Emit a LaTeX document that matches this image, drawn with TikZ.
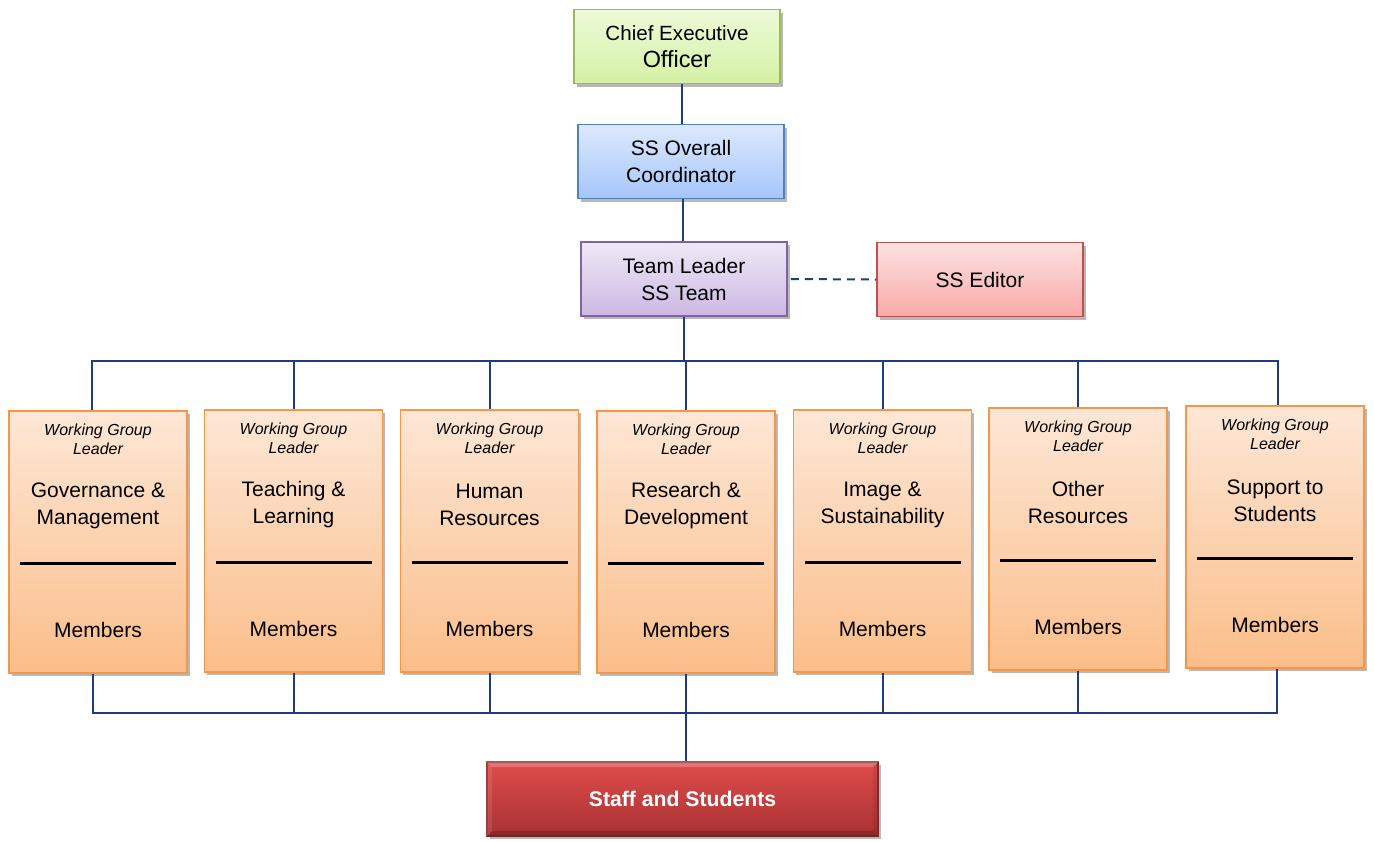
\documentclass[tikz,border=0pt]{standalone}
\usepackage{fontspec}
\setmainfont{Liberation Sans}
\usetikzlibrary{shadows}

\definecolor{linecol}{HTML}{1F3C7C}
\definecolor{greenTop}{HTML}{EEFAD9}
\definecolor{greenBot}{HTML}{D3F1A4}
\definecolor{greenEdge}{HTML}{9BBB59}
\definecolor{blueTop}{HTML}{DDE9FC}
\definecolor{blueBot}{HTML}{A5C6FB}
\definecolor{blueEdge}{HTML}{4F81BD}
\definecolor{purpTop}{HTML}{EFE8F5}
\definecolor{purpBot}{HTML}{CCB8E3}
\definecolor{purpEdge}{HTML}{8064A2}
\definecolor{redTop}{HTML}{FDE2E2}
\definecolor{redBot}{HTML}{F9A9A9}
\definecolor{redEdge}{HTML}{C0504D}
\definecolor{orTop}{HTML}{FDE7D6}
\definecolor{orBot}{HTML}{FBBE8A}
\definecolor{orEdge}{HTML}{F79646}
\definecolor{ssTop}{HTML}{E04C4C}
\definecolor{ssBot}{HTML}{A83232}
\definecolor{ssEdge}{HTML}{8E2C2C}

\begin{document}
\begin{tikzpicture}[x=0.5pt,y=-0.5pt,
  conn/.style={draw=linecol, line width=1pt},
  shadowed/.style={drop shadow={shadow xshift=1.3pt,shadow yshift=-1.6pt,opacity=0.28,fill=black}},
  topbox/.style={draw, line width=0.9pt, minimum width=103pt, minimum height=37pt,
    align=center, inner sep=0pt, font=\fontsize{10.5}{13.5}\selectfont, shadowed},
  wgbox/.style={draw=orEdge, line width=0.9pt, top color=orTop, bottom color=orBot,
    minimum width=89pt, minimum height=131pt, inner sep=0pt, shadowed},
  wgsmall/.style={align=center, inner sep=0pt, font=\fontsize{8}{9.5}\selectfont\itshape},
  wgtitle/.style={align=center, inner sep=0pt, font=\fontsize{10.5}{13.5}\selectfont},
  divider/.style={line width=1.5pt, black}
]
\useasboundingbox (0,0) rectangle (1374,841);

% upper chain of command
\node[topbox, draw=greenEdge, top color=greenTop, bottom color=greenBot] (ceo) at (677,46.5)
  {{\fontsize{10.3}{14.5}\selectfont Chief Executive}\\{\fontsize{11.7}{14.5}\selectfont Officer}};
\node[topbox, draw=blueEdge, top color=blueTop, bottom color=blueBot] (coord) at (681,161.5)
  {SS Overall\\Coordinator};
\node[topbox, draw=purpEdge, top color=purpTop, bottom color=purpBot] (tl) at (684,279)
  {Team Leader\\SS Team};
\node[topbox, draw=redEdge, top color=redTop, bottom color=redBot] (ed) at (980,279.5)
  {SS Editor};

\draw[conn] (coord.north -| 682,0) -- (ceo.south -| 682,0);
\draw[conn] (tl.north -| 683,0) -- (coord.south -| 683,0);
\draw[conn, dash pattern=on 4pt off 3pt, shorten <=1.5pt] (tl.east) -- (ed.west);

% working groups
\foreach \i/\x/\y/\t in {
  1/98/542/{Governance \&\\Management},
  2/293.5/541/{Teaching \&\\Learning},
  3/489.5/541/{Human\\Resources},
  4/686/542/{Research \&\\Development},
  5/882.5/541/{Image \&\\Sustainability},
  6/1078/539/{Other\\Resources},
  7/1275/537/{Support to\\Students}}{
  \node[wgbox] (b\i) at (\x,\y) {};
  \node[wgsmall] (b\i lead) at ([yshift=-14.75pt]b\i.north) {Working Group\\Leader};
  \node[wgtitle] (b\i name) at ([yshift=-47.75pt]b\i.north) {\t};
  \draw[divider] ([xshift=-39pt,yshift=-76.5pt]b\i.north) -- ([xshift=39pt,yshift=-76.5pt]b\i.north);
  \node[wgtitle] (b\i mem) at ([yshift=-110pt]b\i.north) {Members};
}

% staff and students
\node[draw=ssEdge, line width=0.8pt, top color=ssTop, bottom color=ssBot,
  minimum width=195.5pt, minimum height=37pt, inner sep=0pt, shadowed] (st) at (682.5,799) {};
\fill[white, opacity=0.22] (st.north west) -- (st.north east)
  -- ([xshift=-3pt,yshift=-3pt]st.north east) -- ([xshift=3pt,yshift=-3pt]st.north west) -- cycle;
\fill[black, opacity=0.18] (st.south west) -- (st.south east)
  -- ([xshift=-3pt,yshift=3pt]st.south east) -- ([xshift=3pt,yshift=3pt]st.south west) -- cycle;
\fill[black, opacity=0.08] (st.north east) -- (st.south east)
  -- ([xshift=-3pt,yshift=3pt]st.south east) -- ([xshift=-3pt,yshift=-3pt]st.north east) -- cycle;
\fill[white, opacity=0.1] (st.north west) -- (st.south west)
  -- ([xshift=3pt,yshift=3pt]st.south west) -- ([xshift=3pt,yshift=-3pt]st.north west) -- cycle;
\node[text=white, font=\fontsize{10.6}{13}\selectfont\bfseries, inner sep=0pt] (stlabel) at (st.center) {Staff and Students};

% upper bus
\coordinate (busT) at (685,361);
\draw[conn] (tl.south) -- (tl.south |- busT);
\draw[conn] ([xshift=-3pt]b1.north) |- (busT) -| ([xshift=1.5pt]b7.north);
\foreach \i in {2,...,6}{
  \draw[conn] (b\i.north) -- (b\i.north |- busT);
}

% lower bus
\coordinate (busB) at (685,713);
\draw[conn] ([xshift=-2.5pt]b1.south) |- (busB) -| ([xshift=1pt]b7.south);
\foreach \i in {2,3,5,6}{
  \draw[conn] (b\i.south) -- (b\i.south |- busB);
}
\draw[conn] (b4.south) -- (st.north -| b4.south);
\end{tikzpicture}
\end{document}
